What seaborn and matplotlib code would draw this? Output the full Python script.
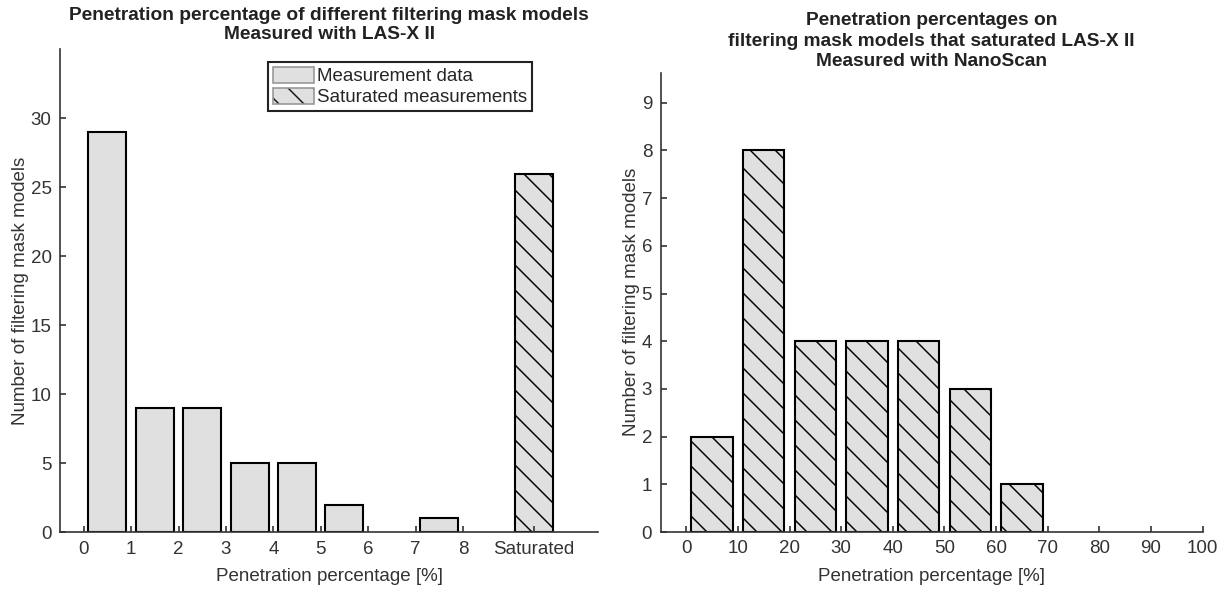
import matplotlib
matplotlib.use('Agg')
import matplotlib.pyplot as plt
import matplotlib.patches as mpatches
import numpy as np
import seaborn as sns

# Datos
# Panel izquierdo: LAS-X II, bins de 1 % (0-1, 1-2, ... 8-9) + columna saturada
las_bordes = [0, 1, 2, 3, 4, 5, 6, 7, 8, 9]
las_conteos = [29, 9, 9, 5, 5, 2, 0, 1, 0]
sat_etiqueta = 'Saturated'
sat_conteo = 26

# Panel derecho: NanoScan, bins de 10 %
nano_bordes = [0, 10, 20, 30, 40, 50, 60, 70, 80, 90, 100]
nano_conteos = [2, 8, 4, 4, 4, 3, 1, 0, 0, 0]

x_ticks_izq = [0, 1, 2, 3, 4, 5, 6, 7, 8]
x_ticks_der = [0, 10, 20, 30, 40, 50, 60, 70, 80, 90, 100]

sns.set_style('white')
plt.rcParams['font.family'] = ['Liberation Sans', 'DejaVu Sans']
plt.rcParams['hatch.linewidth'] = 0.7
plt.rcParams['hatch.color'] = '#111111'

gris = '#e0e0e0'
eje = '#333333'
fs = 9
fs_tit = 9.2

fig = plt.figure(figsize=(8.2, 590 / 150), dpi=150)
ax1 = fig.add_axes([0.0488, 0.0978, 0.4374, 0.8186])
ax2 = fig.add_axes([0.537, 0.0983, 0.4407, 0.7785])

# ---- Panel izquierdo ----
centros = np.array(las_bordes[:-1]) + 0.5
sns.histplot(x=centros, weights=las_conteos, bins=las_bordes, shrink=0.8,
             color=gris, alpha=1, edgecolor='black', linewidth=1.0, ax=ax1)
sat_x = len(las_conteos) + 0.5
sns.histplot(x=[sat_x], weights=[sat_conteo], bins=[sat_x - 0.5, sat_x + 0.5], shrink=0.8,
             color=gris, alpha=1, edgecolor='black', linewidth=1.0, hatch='\\\\', ax=ax1)

ax1.set_xlim(-0.5, 10.85)
ax1.set_ylim(0, 35)
ax1.set_xticks(x_ticks_izq + [sat_x])
ax1.set_xticklabels([str(t) for t in x_ticks_izq] + [sat_etiqueta])
ax1.set_yticks([0, 5, 10, 15, 20, 25, 30])
ax1.set_xlabel('Penetration percentage [%]', fontsize=fs, color=eje, labelpad=5)
ax1.set_ylabel('Number of filtering mask models', fontsize=fs, color=eje, labelpad=1)
ax1.set_title('Penetration percentage of different filtering mask models\nMeasured with LAS-X II',
              fontsize=fs_tit, fontweight='bold', color='#222222', pad=5, linespacing=1.15)

# leyenda: parche gris y parche rayado (rayas oscuras, borde gris)
h1 = mpatches.Patch(facecolor=gris, edgecolor='#999999', linewidth=0.8)
h2_rayas = mpatches.Patch(facecolor=gris, edgecolor='#111111', linewidth=0, hatch='\\\\')
h2_borde = mpatches.Patch(facecolor='none', edgecolor='#999999', linewidth=0.8)
ax1.legend(handles=[h1, (h2_rayas, h2_borde)],
           labels=['Measurement data', 'Saturated measurements'],
           loc='upper left', bbox_to_anchor=(0.387, 0.974), fontsize=fs,
           fancybox=False, edgecolor='#222222', framealpha=1, borderpad=0.25,
           handlelength=2.2, handleheight=0.95, handletextpad=0.15, labelspacing=0.15,
           borderaxespad=0)

# ---- Panel derecho ----
centros2 = np.array(nano_bordes[:-1]) + 5
sns.histplot(x=centros2, weights=nano_conteos, bins=nano_bordes, shrink=0.8,
             color=gris, alpha=1, edgecolor='black', linewidth=1.0, hatch='\\\\', ax=ax2)
ax2.set_xlim(-5, 100)
ax2.set_ylim(0, 9.63)
ax2.set_xticks(x_ticks_der)
ax2.set_yticks(range(0, 10))
ax2.set_xlabel('Penetration percentage [%]', fontsize=fs, color=eje, labelpad=5)
ax2.set_ylabel('Number of filtering mask models', fontsize=fs, color=eje, labelpad=1)
ax2.set_title('Penetration percentages on\nfiltering mask models that saturated LAS-X II\nMeasured with NanoScan',
              fontsize=fs_tit, fontweight='bold', color='#222222', pad=3, linespacing=1.3)

for ax in (ax1, ax2):
    # las barras con conteo cero no se dibujan
    for p in ax.patches:
        if p.get_height() == 0:
            p.set_visible(False)
    sns.despine(ax=ax)
    for s in ('left', 'bottom'):
        ax.spines[s].set_color(eje)
        ax.spines[s].set_linewidth(0.8)
    ax.tick_params(bottom=True, left=True, direction='in', length=3, width=0.8, color=eje,
                   labelcolor=eje, labelsize=fs, pad=4)
    ax.set_axisbelow(False)

fig.savefig('out.png', dpi=150)
